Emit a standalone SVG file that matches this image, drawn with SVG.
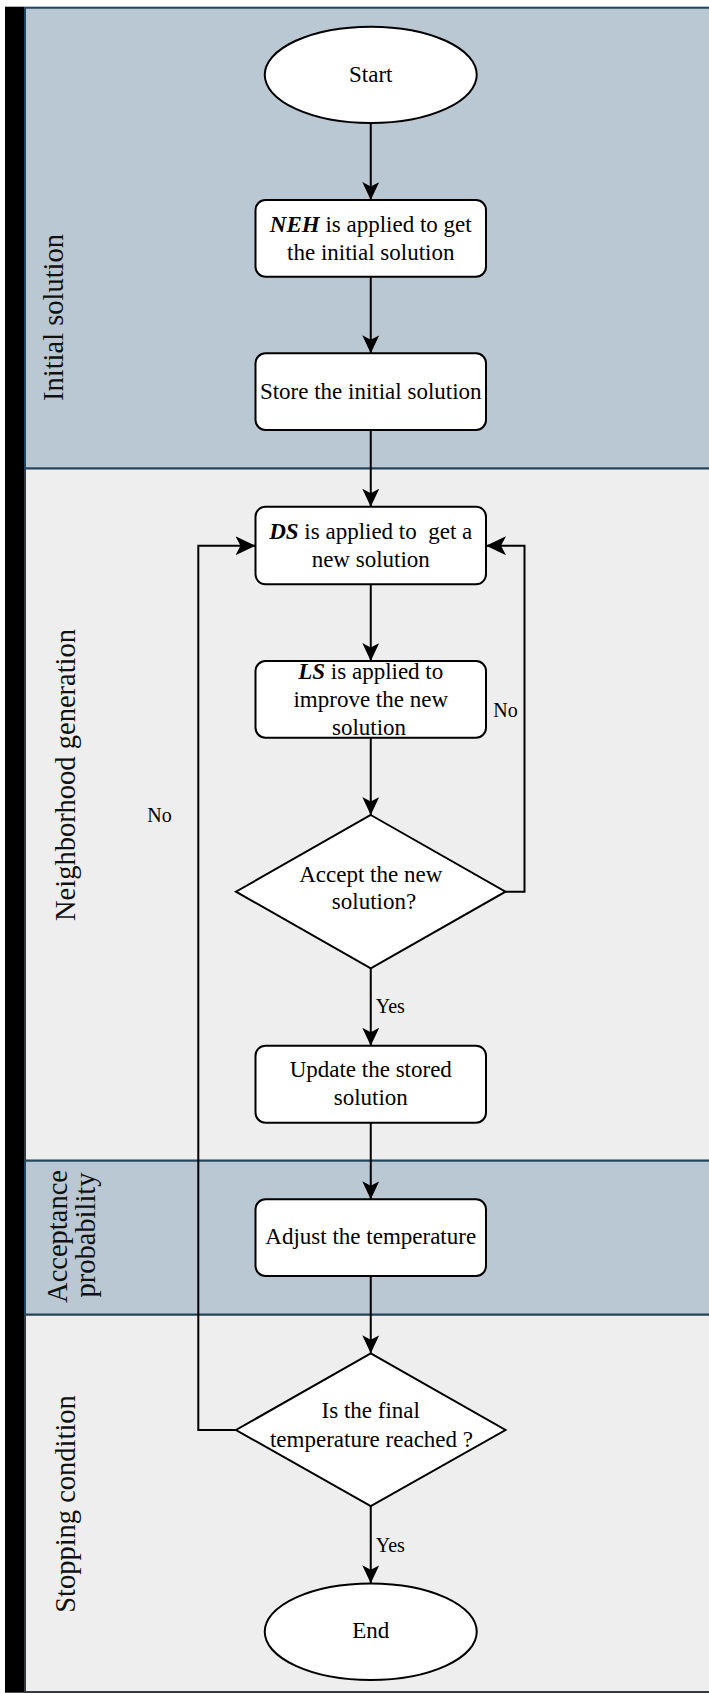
<svg xmlns="http://www.w3.org/2000/svg" width="709" height="1693" viewBox="0 0 709 1693">
<defs>
<style>
.lane-b{fill:#bac8d3;stroke:#23445d;stroke-width:2}
.lane-g{fill:#eeeeee;stroke:#36393d;stroke-width:2}
.lt{font-family:"Liberation Serif","Times New Roman",serif;font-size:28.5px;fill:#111;text-anchor:middle}
.box{fill:#ffffff;stroke:#000;stroke-width:2}
.t{font-family:"Liberation Serif","Times New Roman",serif;font-size:23px;fill:#000;text-anchor:middle;white-space:pre}
.lbl{font-family:"Liberation Serif","Times New Roman",serif;font-size:20px;fill:#000;text-anchor:middle}
.bi{font-weight:bold;font-style:italic}
.c{fill:none;stroke:#000;stroke-width:2}
</style>
<marker id="av" markerUnits="userSpaceOnUse" markerWidth="18" markerHeight="17" viewBox="0 0 18 17" refX="18" refY="8.5" orient="auto">
<path d="M0,0 L18,8.5 L0,17 L4.5,8.5 Z" fill="#000"/>
</marker>
<marker id="ah" markerUnits="userSpaceOnUse" markerWidth="20" markerHeight="19" viewBox="0 0 20 19" refX="20" refY="9.5" orient="auto">
<path d="M0,0 L20,9.5 L0,19 L5,9.5 Z" fill="#000"/>
</marker>
</defs>

<g id="lanes">
<rect x="5" y="6.7" width="19" height="1686" fill="#000"/>
<rect id="lane-neighborhood" class="lane-g" x="25" y="468.3" width="700" height="692.4"/>
<rect id="lane-stopping" class="lane-g" x="25" y="1314.5" width="700" height="377.5"/>
<rect id="lane-initial" class="lane-b" x="25" y="7.7" width="700" height="460.6"/>
<rect id="lane-acceptance" class="lane-b" x="25" y="1160.7" width="700" height="153.8"/>
<text class="lt" transform="translate(63.2,317.5) rotate(-90)">Initial solution</text>
<text class="lt" transform="translate(74.5,775) rotate(-90)">Neighborhood generation</text>
<text class="lt" transform="translate(66.5,1236.5) rotate(-90)">Acceptance</text>
<text class="lt" transform="translate(94.5,1235) rotate(-90)">probability</text>
<text class="lt" transform="translate(74.5,1504) rotate(-90)">Stopping condition</text>
</g>

<g id="connectors">
<path class="c" d="M370.75,123 V200" marker-end="url(#av)"/>
<path class="c" d="M370.75,276.7 V353.3" marker-end="url(#av)"/>
<path class="c" d="M370.75,430 V506.7" marker-end="url(#av)"/>
<path class="c" d="M370.75,584.3 V661" marker-end="url(#av)"/>
<path class="c" d="M370.75,737.7 V815" marker-end="url(#av)"/>
<path class="c" d="M370.75,968.3 V1045.7" marker-end="url(#av)"/>
<path class="c" d="M370.75,1122.7 V1199.3" marker-end="url(#av)"/>
<path class="c" d="M370.75,1276 V1353.3" marker-end="url(#av)"/>
<path class="c" d="M370.75,1506 V1583.3" marker-end="url(#av)"/>
<path class="c" d="M505.5,891.7 H524.5 V545.7 H486" marker-end="url(#ah)"/>
<path class="c" d="M236,1430 H198.3 V545.7 H255.5" marker-end="url(#ah)"/>
<text class="lbl" x="505.5" y="716.5">No</text>
<text class="lbl" x="159.6" y="821.5">No</text>
<text class="lbl" x="390.3" y="1013">Yes</text>
<text class="lbl" x="390.3" y="1551.5">Yes</text>
</g>

<g id="start">
<ellipse class="box" cx="370.75" cy="74.85" rx="106" ry="48.2"/>
<text class="t" x="370.75" y="81.7">Start</text>
</g>

<g id="neh">
<rect class="box" x="255.5" y="200" width="230.5" height="76.7" rx="10"/>
<text class="t" x="370.75" y="232"><tspan class="bi">NEH</tspan> is applied to get</text>
<text class="t" x="370.75" y="260.3">the initial solution</text>
</g>

<g id="store">
<rect class="box" x="255.5" y="353.3" width="230.5" height="76.7" rx="10"/>
<text class="t" x="370.75" y="398.5">Store the initial solution</text>
</g>

<g id="ds">
<rect class="box" x="255.5" y="506.7" width="230.5" height="77.6" rx="10"/>
<text class="t" x="370.75" y="538.5" xml:space="preserve"><tspan class="bi">DS</tspan> is applied to  get a</text>
<text class="t" x="370.75" y="566.8">new solution</text>
</g>

<g id="ls">
<rect class="box" x="255.5" y="661" width="230.5" height="76.7" rx="10"/>
<text class="t" x="370.75" y="678.5"><tspan class="bi">LS</tspan> is applied to</text>
<text class="t" x="370.75" y="706.8">improve the new</text>
<text class="t" x="369" y="735.1">solution</text>
</g>

<g id="accept">
<path class="box" d="M370.75,815 L505.5,891.7 L370.75,968.3 L236,891.7 Z"/>
<text class="t" x="370.75" y="881.7">Accept the new</text>
<text class="t" x="374" y="908.5">solution?</text>
</g>

<g id="update">
<rect class="box" x="255.5" y="1045.7" width="230.5" height="77" rx="10"/>
<text class="t" x="370.75" y="1076.8">Update the stored</text>
<text class="t" x="370.75" y="1105.1">solution</text>
</g>

<g id="adjust">
<rect class="box" x="255.5" y="1199.3" width="230.5" height="76.7" rx="10"/>
<text class="t" x="370.75" y="1243.5">Adjust the temperature</text>
</g>

<g id="final">
<path class="box" d="M370.75,1353.3 L505.5,1430 L370.75,1506 L236,1430 Z"/>
<text class="t" x="370.75" y="1418.3">Is the final</text>
<text class="t" x="371.5" y="1446.7">temperature reached ?</text>
</g>

<g id="end">
<ellipse class="box" cx="370.75" cy="1631.7" rx="106" ry="48.3"/>
<text class="t" x="370.75" y="1638.3">End</text>
</g>
</svg>
